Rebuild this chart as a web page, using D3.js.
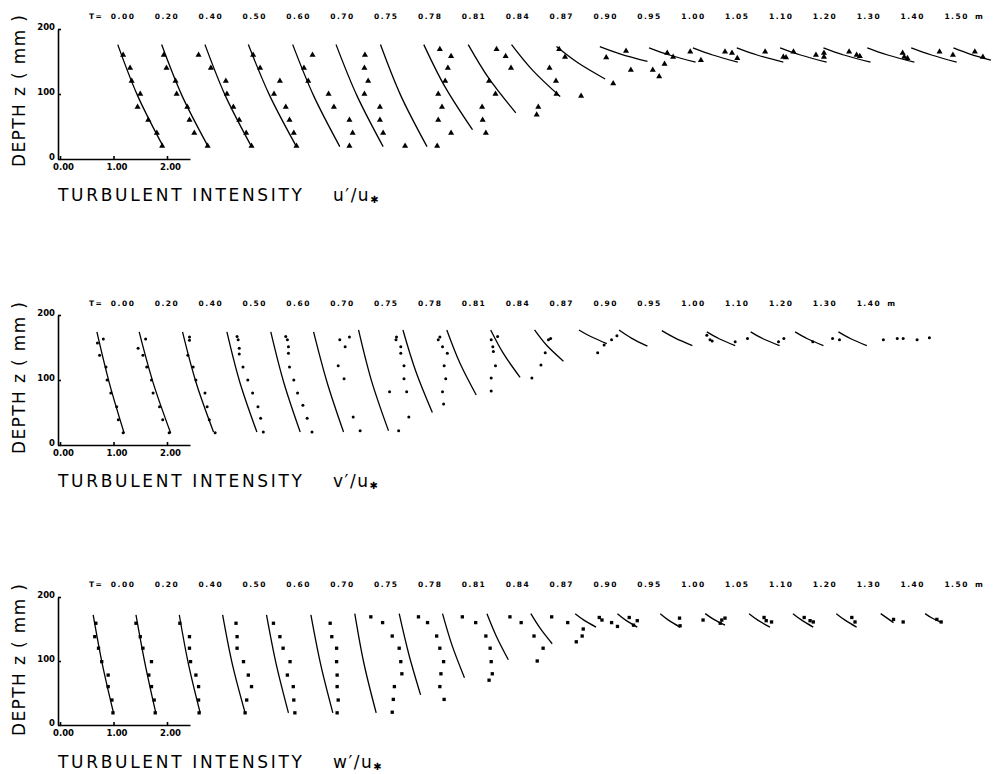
<!DOCTYPE html>
<html>
<head>
<meta charset="utf-8">
<script src="https://cdn.jsdelivr.net/npm/d3@7"></script>
<style>
	body { margin: 0; background: #fff; }
	svg { display: block; font-family: 'DejaVu Sans', sans-serif; }
	.curve { fill: none; stroke: #000; stroke-width: 1.3; }
	.axis path, .axis line { stroke: #000; stroke-width: 1.6; }
	.axis text { font-size: 8.5px; font-weight: bold; fill: #000; font-family: 'DejaVu Sans', sans-serif; }
	.station { font-size: 7.5px; font-weight: bold; letter-spacing: 1.5px; }
	.title { font-size: 17px; }
</style>
</head>
<body>
<svg id="chart" width="997" height="774"></svg>
<script>
// station labels (distance from the break point, m)
const uStations = ['0.00','0.20','0.40','0.50','0.60','0.70','0.75','0.78','0.81','0.84','0.87','0.90','0.95','1.00','1.05','1.10','1.20','1.30','1.40','1.50'];
const vStations = ['0.00','0.20','0.40','0.50','0.60','0.70','0.75','0.78','0.81','0.84','0.87','0.90','0.95','1.00','1.10','1.20','1.30','1.40'];
const wStations = uStations.slice();

// fitted curves per station: [z top, z bottom, value top, value mid, value bottom]
const uCurves = [
	[176, 19, 1.08, 1.45, 1.93], [176, 19, 1.08, 1.46, 1.95], [176, 19, 1.07, 1.45, 1.94], [176, 19, 1.06, 1.46, 1.96],
	[176, 19, 1.07, 1.46, 1.95], [176, 19, 1.06, 1.45, 1.94], [176, 19, 1.07, 1.45, 1.94], [176, 45, 1.06, 1.46, 1.97],
	[176, 71, 1.07, 1.46, 1.96], [176, 96, 1.06, 1.46, 1.97], [173, 123, 1.08, 1.48, 1.99], [173, 150, 1.07, 1.46, 1.96],
	[171, 149, 1.17, 1.55, 2.04], [171, 149, 1.17, 1.54, 2.01], [171, 149, 1.17, 1.55, 2.04], [171, 149, 1.16, 1.54, 2.03],
	[171, 149, 1.15, 1.53, 2.03], [171, 149, 1.15, 1.53, 2.03], [171, 149, 1.15, 1.53, 2.00], [171, 152, 1.12, 1.43, 1.82]
];
const vCurves = [
	[174, 18, 0.69, 0.92, 1.20], [174, 18, 0.66, 0.92, 1.25], [174, 20, 0.65, 0.90, 1.23], [174, 20, 0.66, 0.90, 1.22],
	[174, 20, 0.66, 0.90, 1.21], [174, 20, 0.64, 0.89, 1.20], [177, 22, 0.66, 0.90, 1.22], [177, 50, 0.67, 0.91, 1.22],
	[177, 77, 0.67, 0.91, 1.22], [177, 104, 0.67, 0.91, 1.22], [177, 129, 0.67, 0.90, 1.21], [177, 156, 0.68, 0.91, 1.20],
	[177, 152, 0.61, 0.84, 1.14], [176, 153, 0.59, 0.84, 1.16], [174, 153, 0.61, 0.84, 1.14], [174, 153, 0.61, 0.84, 1.15],
	[174, 153, 0.62, 0.85, 1.15], [174, 153, 0.61, 0.84, 1.14], null
];
const wCurves = [
	[172, 19, 0.62, 0.79, 1.00], [172, 19, 0.60, 0.77, 0.97], [172, 19, 0.59, 0.76, 0.98], [172, 19, 0.58, 0.76, 1.00],
	[172, 19, 0.58, 0.76, 0.99], [172, 19, 0.59, 0.77, 1.00], [174, 19, 0.59, 0.76, 0.99], [174, 47, 0.60, 0.78, 1.00],
	[174, 74, 0.59, 0.77, 1.00], [174, 102, 0.60, 0.78, 1.00], [174, 127, 0.60, 0.78, 1.00], [174, 153, 0.61, 0.78, 1.00],
	[174, 153, 0.58, 0.74, 0.95], [174, 153, 0.56, 0.72, 0.93], [174, 156, 0.58, 0.74, 0.95], [174, 153, 0.58, 0.75, 0.97],
	[174, 153, 0.58, 0.75, 0.96], [174, 153, 0.57, 0.74, 0.95], [174, 160, 0.58, 0.70, 0.82], [174, 161, 0.59, 0.71, 0.87]
];

// measurements: [station index, z (mm), intensity]
const uDots = [
	[0,160,1.18],[0,140,1.31],[0,120,1.34],[0,100,1.50],[0,80,1.45],[0,60,1.65],[0,40,1.81],[0,20,1.91],
	[1,160,1.12],[1,140,1.17],[1,120,1.34],[1,100,1.36],[1,80,1.56],[1,60,1.60],[1,40,1.69],[1,20,1.94],
	[2,160,0.95],[2,140,1.18],[2,120,1.46],[2,100,1.48],[2,80,1.60],[2,60,1.71],[2,40,1.84],[2,20,1.94],
	[3,160,1.15],[3,140,1.28],[3,120,1.65],[3,100,1.54],[3,80,1.76],[3,60,1.83],[3,40,1.91],[3,20,1.96],
	[4,160,1.44],[4,140,1.28],[4,120,1.36],[4,100,1.74],[4,80,1.84],[4,60,2.13],[4,40,2.19],[4,20,2.13],
	[5,160,1.60],[5,140,1.59],[5,120,1.66],[5,100,1.59],[5,80,1.88],[5,60,1.88],[5,40,1.94],[5,20,2.35],
	[6,169,2.18],[6,158,2.39],[6,140,2.33],[6,120,2.28],[6,100,2.15],[6,80,2.22],[6,60,2.15],[6,40,2.39],[6,20,2.13],
	[7,169,2.42],[7,158,2.59],[7,140,2.69],[7,120,2.28],[7,100,2.40],[7,80,2.15],[7,60,2.16],[7,40,2.22],
	[8,140,2.59],[8,120,2.71],[8,100,2.72],[8,80,2.38],[8,68,2.35],
	[9,97,2.36],
	[10,169,1.13],[10,157,1.24],
	[11,156,1.19],[11,116,1.32],[11,166,1.56],[11,137,1.65],
	[12,137,1.24],[12,127,1.36],[12,146,1.46],[12,163,1.51],[12,157,1.62],
	[13,165,1.12],[13,152,1.32],
	[14,165,0.95],[14,163,1.08],[14,155,1.18],
	[15,165,0.88],[15,157,1.22],[15,156,1.27],[15,165,1.41],
	[16,160,1.01],[16,163,1.16],[16,157,1.16],
	[17,165,0.81],[17,160,0.95],[17,158,1.01],
	[18,163,0.99],[18,157,1.02],[18,155,1.08],
	[19,165,0.86],[19,160,1.11],[19,165,1.52],[19,157,1.67]
];
const vDots = [
	[0,163,0.81],[0,157,0.70],[0,138,0.74],[0,120,0.86],[0,100,0.88],[0,80,0.95],[0,59,1.06],[0,39,1.09],[0,19,1.18],
	[1,163,0.78],[1,149,0.64],[1,138,0.73],[1,120,0.80],[1,100,0.89],[1,80,0.92],[1,59,1.04],[1,39,1.10],[1,19,1.22],
	[2,166,0.78],[2,161,0.78],[2,138,0.75],[2,120,0.85],[2,100,0.90],[2,80,1.07],[2,59,1.11],[2,39,1.15],[2,19,1.26],
	[3,167,0.85],[3,162,0.87],[3,149,0.89],[3,140,0.89],[3,120,0.96],[3,100,1.05],[3,80,1.14],[3,59,1.24],[3,41,1.29],[3,20,1.34],
	[4,167,0.94],[4,162,0.97],[4,151,0.99],[4,141,0.99],[4,120,1.01],[4,100,1.09],[4,80,1.16],[4,61,1.26],[4,41,1.34],[4,20,1.43],
	[5,162,1.13],[5,166,1.31],[5,151,1.23],[5,122,1.10],[5,102,1.21],[5,43,1.38],[5,22,1.51],
	[6,166,1.37],[6,162,1.36],[6,151,1.45],[6,141,1.45],[6,122,1.51],[6,102,1.51],[6,82,1.56],[6,82,1.24],[6,43,1.60],[6,22,1.41],
	[7,166,1.36],[7,162,1.33],[7,151,1.41],[7,141,1.50],[7,122,1.44],[7,102,1.47],[7,82,1.41],[7,63,1.43],
	[8,167,1.62],[8,162,1.50],[8,151,1.53],[8,144,1.54],[8,122,1.58],[8,103,1.50],[8,83,1.50],
	[9,164,1.79],[9,162,1.75],[9,142,1.69],[9,123,1.61],[9,103,1.44],
	[11,154,1.15],[11,142,1.03],[11,162,1.29],[11,168,1.39],
	[13,169,1.43],[13,162,1.49],[13,160,1.53],
	[14,159,1.14],[14,164,1.37],
	[15,159,1.13],[15,164,1.23],
	[16,159,0.95],[16,164,1.32],[16,162,1.45],
	[18,162,0.63],[18,164,0.89],[18,164,1.00],[18,162,1.26],[18,165,1.49]
];
const wDots = [
	[0,159,0.67],[0,138,0.65],[0,120,0.72],[0,99,0.78],[0,78,0.90],[0,60,0.90],[0,39,0.97],[0,19,0.99],
	[1,159,0.60],[1,138,0.68],[1,120,0.73],[1,99,0.89],[1,78,0.84],[1,60,0.89],[1,39,0.94],[1,19,0.96],
	[2,159,0.60],[2,138,0.78],[2,120,0.78],[2,99,0.80],[2,78,0.90],[2,60,0.95],[2,39,0.95],[2,19,0.96],
	[3,159,0.83],[3,138,0.85],[3,120,0.85],[3,99,0.97],[3,78,1.06],[3,60,1.12],[3,39,1.03],[3,19,1.00],
	[4,159,0.71],[4,138,0.83],[4,120,0.89],[4,99,1.02],[4,78,0.97],[4,60,1.08],[4,39,1.09],[4,19,1.11],
	[5,159,0.95],[5,138,0.98],[5,120,1.07],[5,99,1.07],[5,78,1.08],[5,60,1.08],[5,39,1.10],[5,19,1.08],
	[6,169,0.89],[6,160,1.11],[6,139,1.29],[6,120,1.42],[6,99,1.45],[6,80,1.47],[6,60,1.33],[6,40,1.31],[6,20,1.29],
	[7,169,0.96],[7,160,1.13],[7,139,1.30],[7,120,1.36],[7,99,1.43],[7,80,1.38],[7,60,1.36],[7,40,1.44],
	[8,169,0.96],[8,160,1.21],[8,139,1.40],[8,120,1.48],[8,99,1.50],[8,80,1.52],[8,70,1.46],
	[9,169,1.03],[9,160,1.24],[9,139,1.48],[9,120,1.65],[9,100,1.54],
	[10,169,0.99],[10,160,1.29],[10,150,1.58],[10,139,1.56],[10,130,1.45],
	[11,168,1.06],[11,164,1.11],[11,160,1.29],[11,154,1.40],
	[12,168,0.80],[12,156,0.88],[12,163,0.95],
	[13,167,0.92],[13,155,0.93],
	[14,164,0.54],[14,164,0.89],[14,167,0.95],[14,159,0.86],
	[15,168,0.86],[15,163,0.90],[15,161,1.00],
	[16,168,0.79],[16,163,0.90],[16,161,0.96],
	[17,168,0.86],[17,161,0.92],
	[18,165,0.82],[18,161,1.00],
	[19,165,0.81],[19,161,0.89]
];

const yTicks = [0, 100, 200];
const xTicks = [0, 1, 2];

const shift = 0.82;      // each station is drawn 0.82 intensity units to the right of the previous one
const labelBase = 1.18;  // station label sits over this intensity of its profile

const svg = d3.select('svg#chart');
const x = d3.scaleLinear([0, 1], [60, 113.5]);

const panels = [
	{ comp: 'u', stations: uStations, curves: uCurves, dots: uDots, mark: 'triangle', yRange: [159, 29], stationY: 19, titleY: 201, depthY: 91 },
	{ comp: 'v', stations: vStations, curves: vCurves, dots: vDots, mark: 'dot', yRange: [445, 315], stationY: 305.5, titleY: 486.5, depthY: 378 },
	{ comp: 'w', stations: wStations, curves: wCurves, dots: wDots, mark: 'square', yRange: [725, 597], stationY: 587, titleY: 768, depthY: 660 }
];

function drawPanel (p) {
	const g = svg.append('g').attr('class', `panel ${p.comp}`);
	const y = d3.scaleLinear([0, 200], p.yRange);

	// axes
	const xAxisScale = d3.scaleLinear([0, 2.43], [x(0), x(2.43)]);
	g.append('g').attr('class', 'axis x')
		.attr('transform', `translate(0, ${y(0)})`)
		.call(d3.axisBottom(xAxisScale).tickValues(xTicks).tickFormat(d3.format('.2f')).tickSizeInner(-3).tickSizeOuter(0).tickPadding(5))
		.call(a => a.selectAll('text').attr('dx', 3));
	g.append('g').attr('class', 'axis y')
		.attr('transform', `translate(${x(0) - 2}, 0)`)
		.call(d3.axisLeft(y).tickValues(yTicks).tickSizeInner(-3).tickSizeOuter(0).tickPadding(3))
		.call(a => a.selectAll('text').attr('dy', '0.05em'));

	// fitted curves
	const line = d3.line()
		.x(d => x(d.v + d.i * shift))
		.y(d => y(d.z))
		.curve(d3.curveNatural);
	const curveData = p.curves.map((c, i) => c && [
		{ i, z: c[0], v: c[2] },
		{ i, z: (c[0] + c[1]) / 2, v: c[3] },
		{ i, z: c[1], v: c[4] }
	]).filter(Boolean);
	g.selectAll('path.curve').data(curveData).join('path')
		.attr('class', 'curve')
		.attr('d', line);

	// measured points
	const pos = d => `translate(${x(d[2] + d[0] * shift)}, ${y(d[1])})`;
	if (p.mark === 'dot') {
		g.selectAll('circle.pt').data(p.dots).join('circle')
			.attr('class', 'pt')
			.attr('r', 1.5)
			.attr('transform', pos);
	} else {
		const sym = p.mark === 'triangle' ? d3.symbol(d3.symbolTriangle, 16) : d3.symbol(d3.symbolSquare, 11);
		g.selectAll('path.pt').data(p.dots).join('path')
			.attr('class', 'pt')
			.attr('d', sym)
			.attr('transform', pos);
	}

	// station labels
	const sx = i => x(labelBase + i * shift);
	g.selectAll('text.station').data(p.stations).join('text')
		.attr('class', 'station')
		.attr('x', (d, i) => sx(i))
		.attr('y', p.stationY)
		.attr('text-anchor', 'middle')
		.text(d => d);
	g.append('text').attr('class', 'station')
		.attr('x', sx(0) - 27).attr('y', p.stationY)
		.attr('text-anchor', 'middle')
		.text('T=');
	g.append('text').attr('class', 'station')
		.attr('x', sx(p.stations.length - 1) + 23).attr('y', p.stationY)
		.attr('text-anchor', 'middle')
		.text('m');

	// titles
	g.append('text').attr('class', 'title')
		.attr('x', 58).attr('y', p.titleY)
		.attr('textLength', 244).attr('lengthAdjust', 'spacing')
		.text('TURBULENT  INTENSITY');
	const lab = g.append('text').attr('class', 'title')
		.attr('x', 333).attr('y', p.titleY)
		.attr('letter-spacing', 1.5);
	lab.append('tspan').text(`${p.comp}′/u`);
	lab.append('tspan').attr('font-size', 10).attr('dy', 2).text('✱');

	g.append('text').attr('class', 'title')
		.attr('transform', `translate(19, ${p.depthY}) rotate(-90)`)
		.attr('text-anchor', 'middle')
		.attr('dominant-baseline', 'central')
		.attr('textLength', 152).attr('lengthAdjust', 'spacing')
		.text('DEPTH  z  ( mm )');
}

panels.forEach(drawPanel);
</script>
</body>
</html>
